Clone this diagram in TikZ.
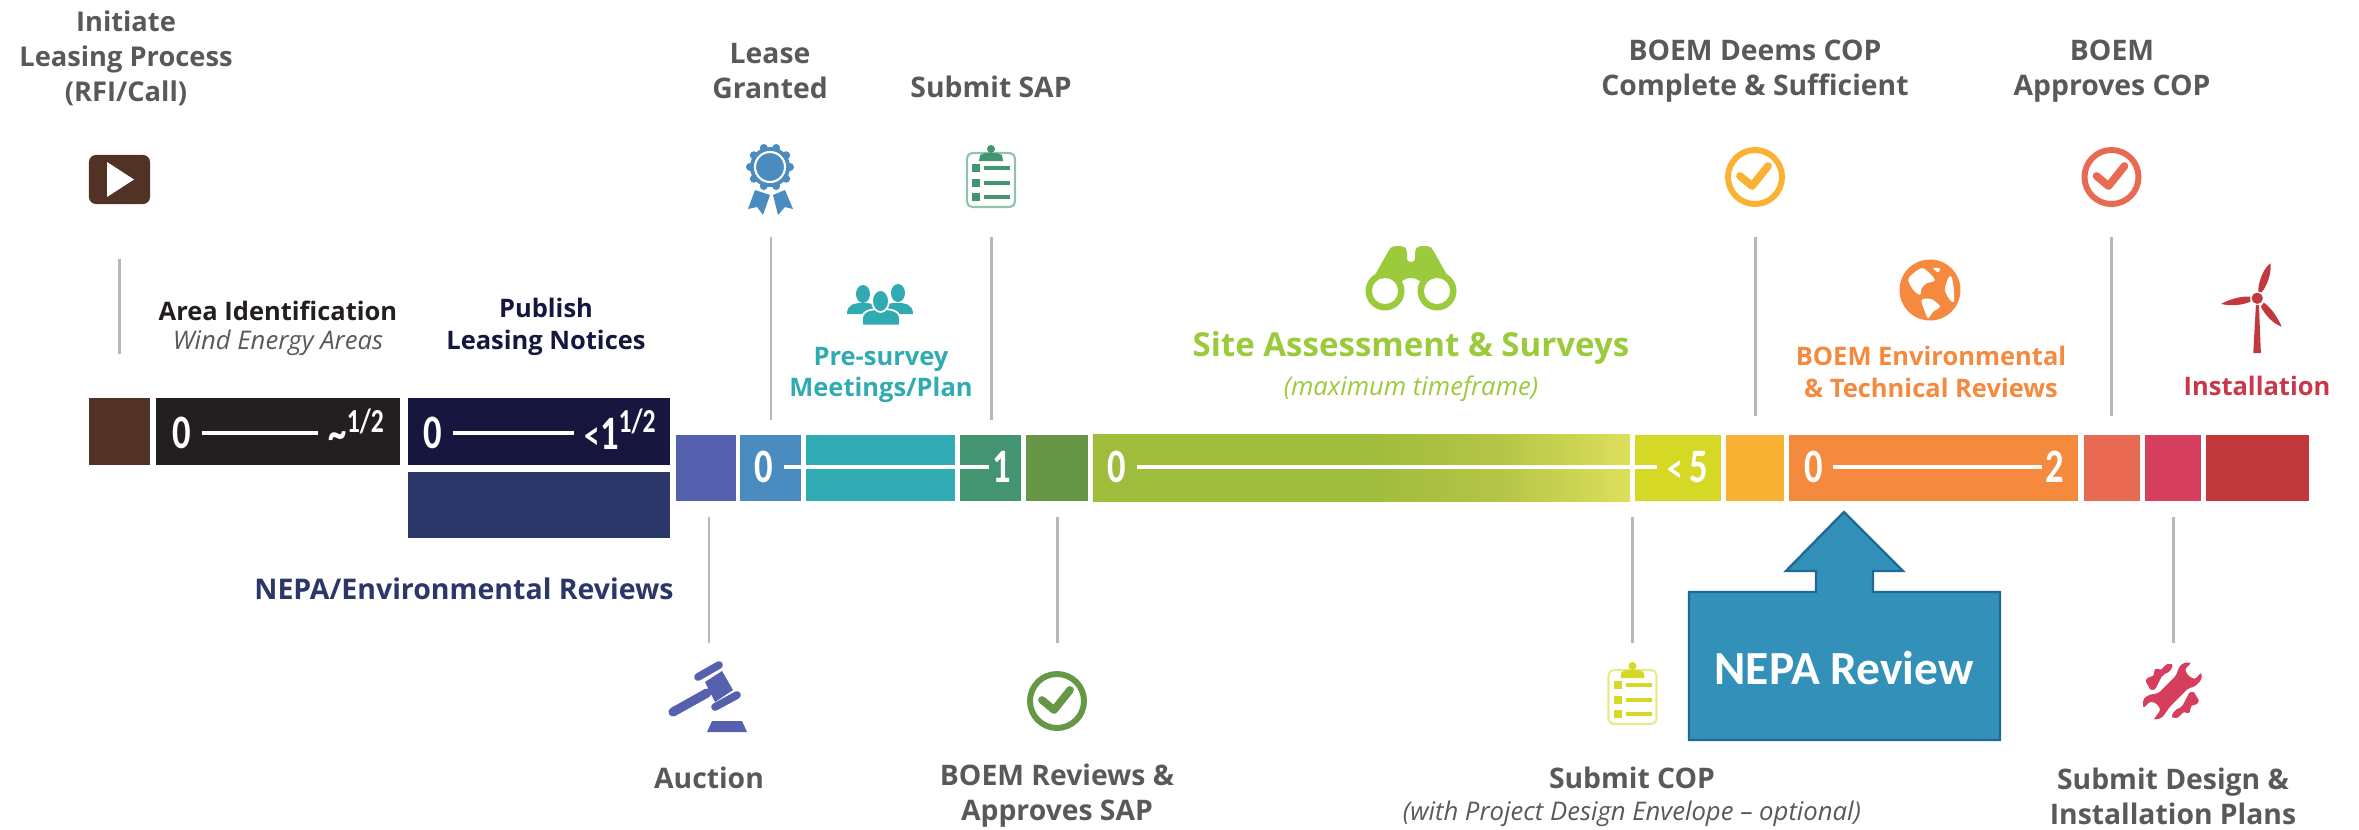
\documentclass[tikz,border=0pt]{standalone}
\usepackage{fontspec}
\setmainfont{Open Sans}
\newfontfamily\numfont{Carlito}
\usepackage{tikz}

\definecolor{cBrown}{HTML}{523225}
\definecolor{cBlack}{HTML}{231F20}
\definecolor{cNavy}{HTML}{17163F}
\definecolor{cDeep}{HTML}{2B3769}
\definecolor{cPurple}{HTML}{5560AE}
\definecolor{cBlue}{HTML}{4A8CC0}
\definecolor{cTeal}{HTML}{31ABB3}
\definecolor{cGreen}{HTML}{429570}
\definecolor{cGreenLt}{HTML}{8FC4AC}
\definecolor{cMoss}{HTML}{659746}
\definecolor{cLime}{HTML}{9FBC3D}
\definecolor{cLimeMid}{HTML}{B4C446}
\definecolor{cLimeEnd}{HTML}{DDE05C}
\definecolor{cYellow}{HTML}{D5D824}
\definecolor{cYellowLt}{HTML}{E8EA8A}
\definecolor{cAmber}{HTML}{F9B233}
\definecolor{cOrange}{HTML}{F58A3F}
\definecolor{cCoral}{HTML}{E96A52}
\definecolor{cPink}{HTML}{D63E5E}
\definecolor{cInstall}{HTML}{C8384A}
\definecolor{cRed}{HTML}{C1393C}
\definecolor{cBino}{HTML}{9BCB3C}
\definecolor{cGrey}{HTML}{58595B}
\definecolor{cTick}{HTML}{B5B7BA}
\definecolor{cNepa}{HTML}{3391B9}
\definecolor{cNepaEdge}{HTML}{1F6A93}

\pgfdeclarehorizontalshading{siteshade}{100bp}{color(0bp)=(cLime); color(50bp)=(cLime); color(62.5bp)=(cLimeMid); color(75bp)=(cLimeEnd); color(100bp)=(cLimeEnd)}
\newcommand{\thinnum}[1]{\scalebox{0.8}[1.05]{#1}}

\begin{document}
\begin{tikzpicture}[x=0.01cm,y=-0.01cm]
        \tikzstyle{every node}+=[inner sep=0pt]
        \tikzstyle{topbar}=[minimum height=0.67cm]
        \tikzstyle{midbar}=[minimum height=0.66cm]
        \tikzstyle{barnum}=[text=white,font=\numfont\bfseries\fontsize{13}{13}\selectfont]
        \tikzstyle{barline}=[white,line width=1.3pt,shorten <=0.1cm]
        \tikzstyle{tickline}=[cTick,line width=0.85pt]
        \tikzstyle{steplabel}=[align=center,text=cGrey,font=\fontsize{8.05}{9.96}\selectfont\bfseries]
        \tikzstyle{spanlabel}=[align=center,font=\fontsize{7.25}{9}\selectfont\bfseries]
        \tikzstyle{notelabel}=[align=center,font=\fontsize{7.3}{9}\selectfont\itshape]
        \useasboundingbox (0,0) rectangle (2359,830);

        % bars
        \node [topbar,fill=cBrown,minimum width=0.61cm] (sgBrown) at (119.5,431.5) {};
        \node [topbar,fill=cBlack,minimum width=2.445cm] (sgBlack) at (278,431.5) {};
        \node [topbar,fill=cNavy,minimum width=2.62cm] (sgNavy) at (539,431.5) {};
        \node [midbar,fill=cDeep,minimum width=2.62cm] (sgDeep) at (539,505) {};
        \node [midbar,fill=cPurple,minimum width=0.6cm] (sgPurple) at (706,468) {};
        \node [midbar,fill=cBlue,minimum width=0.61cm] (sgBlue) at (770.5,468) {};
        \node [midbar,fill=cTeal,minimum width=1.48cm] (sgTeal) at (880.5,468) {};
        \node [midbar,fill=cGreen,minimum width=0.61cm] (sgGreen) at (990.5,468) {};
        \node [midbar,fill=cMoss,minimum width=0.62cm] (sgMoss) at (1057,468) {};
        \node [midbar,shading=siteshade,minimum width=5.37cm] (sgSite) at (1361.5,468) {};
        \node [midbar,fill=cYellow,minimum width=0.86cm] (sgYellow) at (1678,468) {};
        \node [midbar,fill=cAmber,minimum width=0.585cm] (sgAmber) at (1755,468) {};
        \node [midbar,fill=cOrange,minimum width=2.89cm] (sgOrange) at (1933.5,468) {};
        \node [midbar,fill=cCoral,minimum width=0.565cm] (sgCoral) at (2112,468) {};
        \node [midbar,fill=cPink,minimum width=0.56cm] (sgPink) at (2173,468) {};
        \node [midbar,fill=cRed,minimum width=1.03cm] (sgRed) at (2257.5,468) {};

        % numbers on the bars
        \node [barnum] (zeroBlack) at (182,433) {\thinnum{0}};
        \node [barnum,anchor=base west] (endBlack) at (328,449) {\thinnum{\textasciitilde\textsuperscript{1/2}}};
        \draw [barline,shorten >=0.1cm] (zeroBlack.east) -- (zeroBlack.east -| endBlack.west);
        \node [barnum] (zeroNavy) at (433,433) {\thinnum{0}};
        \node [barnum,anchor=base west] (endNavy) at (584,449) {\thinnum{{\fontsize{11}{11}\selectfont<}1\textsuperscript{1/2}}};
        \draw [barline,shorten >=0.1cm] (zeroNavy.east) -- (zeroNavy.east -| endNavy.west);
        \node [barnum] (zeroBlue) at (764,467) {\thinnum{0}};
        \node [barnum] (endGreen) at (1002,467) {\thinnum{1}};
        \draw [barline,shorten >=0.03cm] (zeroBlue.east) -- (zeroBlue.east -| endGreen.west);
        \node [barnum] (zeroSite) at (1117,467) {\thinnum{0}};
        \node [barnum,anchor=base west] (endYellow) at (1667,482) {\thinnum{{\fontsize{11}{11}\selectfont<}\,5}};
        \draw [barline,shorten >=0.1cm] (zeroSite.east) -- (zeroSite.east -| endYellow.west);
        \node [barnum] (zeroOrange) at (1813.5,467) {\thinnum{0}};
        \node [barnum] (endOrange) at (2055,467) {\thinnum{2}};
        \draw [barline,shorten >=0.03cm] (zeroOrange.east) -- (zeroOrange.east -| endOrange.west);

        % play
        \node [fill=cBrown,rounded corners=2pt,minimum width=0.61cm,minimum height=0.49cm] (iconPlay) at (119.5,179.5) {};
        \fill [white] (107,162) -- (134,179.5) -- (107,197) -- cycle;
        % ribbon
        \foreach \ang in {0,36,...,324} \fill [cBlue] (770,167) ++(\ang:20) circle (4);
        \fill [cBlue] (770,167) circle (20);
        \draw [white,line width=0.6pt] (770,167) circle (15);
        \fill [cBlue] (755,190) -- (770,195) -- (763,215) -- (757,207) -- (748,209) -- cycle;
        \fill [cBlue] (773,195) -- (785,190) -- (793,209) -- (785,207) -- (778,215) -- cycle;
        \coordinate (iconRibbon) at (771,214);
        % clipboards
        \foreach \cx/\cy/\cc/\cl in {991/146/cGreen/cGreenLt,1632.5/663/cYellow/cYellowLt} {
            \begin{scope}[shift={(\cx,\cy)}]
                \draw [\cl,line width=0.6pt,rounded corners=1.5pt] (-24,7) rectangle (24,61);
                \fill [\cc] (-12,15) -- (-11,9) -- (-6,7) -- (6,7) -- (11,9) -- (12,15) -- cycle;
                \fill [\cc] (0,3) circle (4);
                \foreach \ry in {22,37,51} {
                    \fill [\cc] (-19,\ry-4) rectangle (-11,\ry+4);
                    \draw [\cc,line width=1.1pt] (-7,\ry) -- (19,\ry);
                }
            \end{scope}
        }
        \coordinate (iconSap) at (991,207);
        \coordinate (iconCop) at (1632.5,663);
        % checks
        \foreach \cx/\cy/\cc in {1057/701/cMoss,1755/177/cAmber,2111.5/177/cCoral} {
            \draw [\cc,line width=1.7pt] (\cx,\cy) circle (27);
            \draw [\cc,line width=2.2pt,line cap=round,line join=round] (\cx,\cy) ++(-15,-1) -- ++(12,10) -- ++(16,-20);
        }
        \coordinate (iconDeems) at (1755,207);
        \coordinate (iconApproves) at (2111.5,207);
        \coordinate (iconReviews) at (1057,671);
        % people
        \fill [cTeal] (847,314) .. controls (847,304) and (855,303) .. (863,303) .. controls (871,303) and (879,304) .. (879,314) -- cycle;
        \fill [cTeal] (913,314) .. controls (913,304) and (905,303) .. (897,303) .. controls (889,303) and (881,304) .. (881,314) -- cycle;
        \fill [cTeal] (863,294) ellipse (7 and 9);
        \fill [cTeal] (898,293) ellipse (7 and 9);
        \fill [cTeal,draw=white,line width=0.5pt] (862,325.5) -- (862,318) .. controls (863,310) and (872,309) .. (881,309) .. controls (890,309) and (899,310) .. (900,318) -- (900,325.5) -- cycle;
        \fill [cTeal,draw=white,line width=0.5pt] (880.5,301) ellipse (8.5 and 11);
        % binoculars
        \fill [cBino,rounded corners=1pt] (1366,291) -- (1389,250) -- (1392,246) -- (1404,246) -- (1407,250) -- (1407,262) -- (1415,262) -- (1415,250) -- (1418,246) -- (1430,246) -- (1433,250) -- (1456,291) -- (1436,291) -- (1415,278) -- (1407,278) -- (1386,291) -- cycle;
        \fill [cBino] (1385,291) circle (19.5);
        \fill [cBino] (1437,291) circle (19.5);
        \fill [white] (1385,291) circle (13);
        \fill [white] (1437,291) circle (13);
        % gavel
        \draw [cPurple,line width=2.6pt,line cap=round] (673,712) -- (707,693);
        \fill [cPurple] (705,682) -- (722,671) -- (733,690) -- (715,702) -- cycle;
        \draw [cPurple,line width=2.2pt,line cap=round] (698,677) -- (719,665);
        \draw [cPurple,line width=2.2pt,line cap=round] (715,707) -- (737,695);
        \fill [cPurple] (707,732) -- (712,721) -- (742,721) -- (747,732) -- cycle;
        \coordinate (iconGavel) at (709,663);
        % globe
        \fill [cOrange] (1930,290) circle (30.5);
        \begin{scope}[shift={(1880,240)},x=0.00333cm,y=-0.00333cm]
            \fill [white] plot [smooth cycle] coordinates {(85,120) (100,100) (130,85) (165,120) (140,130) (125,145) (120,165) (100,150)};
            \fill [white] plot [smooth cycle] coordinates {(125,180) (155,178) (180,200) (160,215) (145,235) (135,215)};
            \fill [white] plot [smooth cycle] coordinates {(205,115) (215,110) (222,150) (222,185) (210,180) (195,150)};
            \fill [white] plot [smooth cycle] coordinates {(160,85) (180,85) (175,97)};
        \end{scope}
        % turbine
        \begin{scope}[shift={(2200,250)},x=0.00333cm,y=-0.00333cm]
            \fill [cRed] (175,125) .. controls (175,90) and (195,50) .. (212,40) .. controls (215,75) and (200,110) .. (185,127) -- cycle;
            \fill [cRed] (150,140) .. controls (120,138) and (85,150) .. (63,162) .. controls (95,170) and (130,165) .. (152,155) -- cycle;
            \fill [cRed] (192,158) .. controls (215,175) and (235,205) .. (245,230) .. controls (220,222) and (195,195) .. (183,170) -- cycle;
            \fill [cRed] (172,145) circle (17);
            \fill [cRed] (168,165) -- (177,165) -- (183,310) -- (160,310) -- cycle;
        \end{scope}
        % wrench
        \begin{scope}[shift={(2120,640)},x=0.00333cm,y=-0.00333cm]
            \fill [cPink,rounded corners=0.6pt] (215,68) -- (195,88) -- (205,108) -- (225,118) -- (245,97) -- (245,120) -- (225,140) -- (205,145) -- (150,200) -- (140,215) -- (125,235) -- (100,240) -- (122,210) -- (110,190) -- (90,185) -- (70,205) -- (68,180) -- (85,165) -- (115,160) -- (170,105) -- (175,85) -- (190,68) -- cycle;
            \fill [cPink,rounded corners=0.6pt] (150,70) -- (160,75) -- (150,95) -- (128,105) -- (115,130) -- (105,150) -- (90,150) -- (85,135) -- (75,125) -- (85,110) -- (100,110) -- (105,85) -- (125,90) -- (135,75) -- cycle;
            \fill [cPink,rounded corners=0.6pt] (164,236) -- (154,231) -- (164,211) -- (186,201) -- (199,176) -- (209,156) -- (224,156) -- (229,171) -- (239,181) -- (229,196) -- (214,196) -- (209,221) -- (189,216) -- (179,231) -- cycle;
        \end{scope}
        \coordinate (iconWrench) at (2173,662);

        % ticks
        \draw [tickline,shorten <=0.54cm,shorten >=0.43cm] (iconPlay.south) -- (iconPlay.south |- sgBrown.north);
        \draw [tickline,shorten <=0.23cm,shorten >=0.14cm] (iconRibbon) -- (iconRibbon |- sgBlue.north);
        \draw [tickline,shorten <=0.3cm,shorten >=0.14cm] (iconSap) -- (iconSap |- sgGreen.north);
        \draw [tickline,shorten <=0.3cm,shorten >=0.18cm] (iconDeems) -- (iconDeems |- sgAmber.north);
        \draw [tickline,shorten <=0.3cm,shorten >=0.18cm] (iconApproves) -- (iconApproves |- sgCoral.north);
        \draw [tickline,shorten <=0.15cm,shorten >=0.2cm] (iconGavel |- sgPurple.south) -- (iconGavel);
        \draw [tickline,shorten <=0.15cm,shorten >=0.28cm] (iconReviews |- sgMoss.south) -- (iconReviews);
        \draw [tickline,shorten <=0.15cm,shorten >=0.2cm] (iconCop |- sgSite.south) -- (iconCop);
        \draw [tickline,shorten <=0.15cm,shorten >=0.19cm] (iconWrench |- sgPink.south) -- (iconWrench);

        % labels
        \node [steplabel,font=\fontsize{7.75}{9.96}\selectfont\bfseries] (lbInitiate) at (126,58) {Initiate\\Leasing Process\\(RFI/Call)};
        \node [steplabel] (lbLease) at (770,71) {Lease\\Granted};
        \node [steplabel] (lbSap) at (991,87) {Submit SAP};
        \node [steplabel] (lbDeems) at (1755,71) {BOEM Deems COP\\Complete \& Sufficient};
        \node [steplabel] (lbApproves) at (2112,71) {BOEM\hspace{0.1cm}\\Approves COP};
        \node [steplabel] (lbAuction) at (709,778) {Auction};
        \node [steplabel] (lbReviews) at (1057,796) {BOEM Reviews \&\\Approves SAP};
        \node [steplabel] (lbCop) at (1632,778) {Submit COP};
        \node [notelabel,text=cGrey] (lbEnvelope) at (1632,814) {(with Project Design Envelope -- optional)};
        \node [steplabel] (lbDesign) at (2173,796) {Submit Design \&\\Installation Plans};
        \node [spanlabel,text=cBlack] (lbArea) at (278,311) {Area Identification};
        \node [notelabel,text=cGrey] (lbWind) at (278,343) {Wind Energy Areas};
        \node [spanlabel,text=cNavy] (lbPublish) at (546,327) {Publish\\Leasing Notices};
        \node [spanlabel,text=cDeep,font=\fontsize{8.1}{10}\selectfont\bfseries] (lbNepa) at (464,589) {NEPA/Environmental Reviews};
        \node [spanlabel,text=cTeal] (lbPre) at (881,375) {Pre-survey\\Meetings/Plan};
        \node [spanlabel,text=cBino,font=\fontsize{9.4}{11}\selectfont\bfseries] (lbSite) at (1411,348) {Site Assessment \& Surveys};
        \node [notelabel,text=cBino] (lbMax) at (1411,389) {(maximum timeframe)};
        \node [spanlabel,text=cOrange] (lbEnv) at (1931,372) {BOEM Environmental\\\& Technical Reviews};
        \node [spanlabel,text=cInstall] (lbInstall) at (2257,386) {Installation};

        % callout
        \draw [fill=cNepa,draw=cNepaEdge,line width=0.7pt] (1689,592) -- (1816,592) -- (1816,571) -- (1786,571) -- (1844,512) -- (1903,571) -- (1873,571) -- (1873,592) -- (2000,592) -- (2000,740) -- (1689,740) -- cycle;
        \node [text=white,font=\numfont\bfseries\fontsize{13.5}{13.5}\selectfont] (lbNepaReview) at (1844,668) {NEPA Review};
    \end{tikzpicture}
\end{document}
